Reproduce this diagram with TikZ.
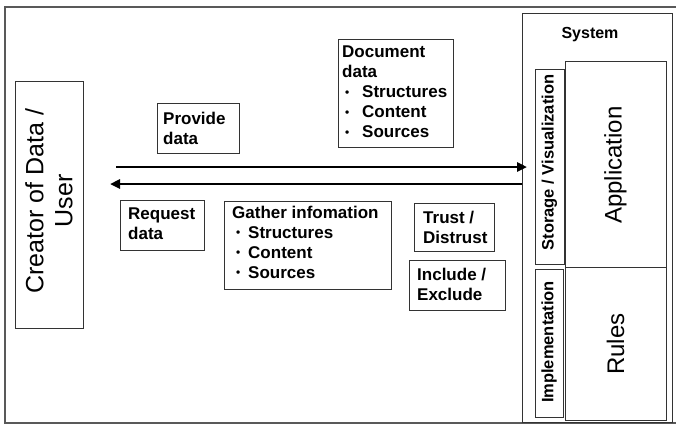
\documentclass[tikz,border=0pt]{standalone}
\usepackage{fontspec}
\setmainfont{Liberation Sans}
\usetikzlibrary{arrows.meta}
\tikzset{
  box/.style={draw=black!80, line width=1.4pt, inner sep=0pt, anchor=north west},
  btxt/.style={inner sep=0pt, anchor=north west, align=left, font=\fontsize{17}{20}\selectfont\bfseries},
  rtxt/.style={inner sep=0pt, rotate=90, align=center},
  flow/.style={line width=2.8pt, -{Triangle[length=10pt,width=9pt]}},
  frame/.style={draw=black!65, line width=1.8pt}
}
\newcommand{\smallbul}{\raisebox{1.5pt}{\scalebox{0.7}{\textbullet}}}
\newcommand{\bul}[1]{\makebox[20pt][l]{\hspace{3pt}\smallbul}#1}
\newcommand{\bulg}[1]{\makebox[16pt][l]{\hspace{4pt}\smallbul}#1}
\begin{document}
\begin{tikzpicture}[x=1pt,y=-1pt]
\useasboundingbox (0,0) rectangle (676,424);
% outer frame
\draw[frame] (680,7) -- (5,7) -- (5,423) -- (680,423);

% creator
\node[box, minimum width=68pt, minimum height=247pt] (creator) at (15,81) {};
\node[rtxt, font=\fontsize{25}{29}\selectfont] (creatorT) at (49,201) {Creator of Data /\\User};

% small boxes
\node[box, minimum width=82pt, minimum height=50pt] (provide) at (157,103) {};
\node[btxt] (provideT) at (163,111.7) {Provide\\data};

\node[box, minimum width=115pt, minimum height=108pt] (document) at (338,39) {};
\node[btxt] (documentT) at (342,45.7) {Document\\data\\\bul{Structures}\\\bul{Content}\\\bul{Sources}};

\node[box, minimum width=84pt, minimum height=50pt] (request) at (120,200) {};
\node[btxt] (requestT) at (128,207.7) {Request\\data};

\node[box, minimum width=167pt, minimum height=88pt] (gather) at (224,201) {};
\node[btxt] (gatherT) at (232,205.7) {Gather infomation\\\bulg{Structures}\\\bulg{Content}\\\bulg{Sources}};

\node[box, minimum width=80pt, minimum height=48pt] (trust) at (414,203) {};
\node[btxt] (trustT) at (423,210.7) {Trust /\\Distrust};

\node[box, minimum width=96pt, minimum height=50pt] (include) at (409,260) {};
\node[btxt] (includeT) at (417,267.7) {Include /\\Exclude};

% system
\node[box, minimum width=150pt, minimum height=409pt] (sys) at (522,13) {};
\node[inner sep=0pt, anchor=base, font=\fontsize{16}{19}\selectfont\bfseries] (sysT) at (590,38) {System};

\node[box, minimum width=29pt, minimum height=195pt] (storage) at (535,69) {};
\node[rtxt, font=\fontsize{16.5}{19}\selectfont\bfseries] (storageT) at (549.5,162.5) {Storage / Visualization};

\node[box, minimum width=101pt, minimum height=206pt] (app) at (565,61) {};
\node[rtxt, font=\fontsize{24}{28}\selectfont] (appT) at (615.5,165) {Application};

\node[box, minimum width=28pt, minimum height=148pt] (impl) at (535,269) {};
\node[rtxt, font=\fontsize{16.5}{19}\selectfont\bfseries] (implT) at (549,342) {Implementation};

\node[box, minimum width=101pt, minimum height=153pt] (rules) at (565,267) {};
\node[rtxt, font=\fontsize{24}{28}\selectfont] (rulesT) at (615.5,344) {Rules};

% arrows
\coordinate (a1s) at (116,167);
\coordinate (a2e) at (110,184);
\draw[flow, shorten >=-5pt] (a1s) -- (a1s -| sys.west);
\draw[flow] (sys.west |- a2e) -- (a2e);
\end{tikzpicture}
\end{document}
